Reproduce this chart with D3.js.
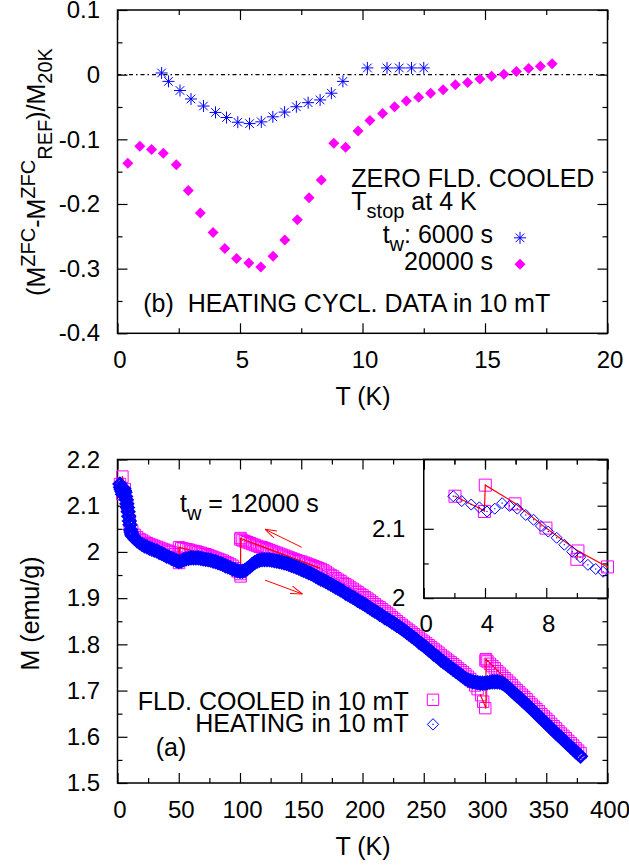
<!DOCTYPE html>
<html><head><meta charset="utf-8">
<script src="https://cdn.jsdelivr.net/npm/d3@7"></script>
<style>
body{margin:0;background:#fff}
svg text{font-family:"Liberation Sans",Arial,Helvetica,sans-serif;fill:#000}
</style>
</head><body>
<svg id="c" width="629" height="867" xmlns="http://www.w3.org/2000/svg"></svg>
<script>
// ---------------- DATA : panel (b) ----------------
const starT = [1.8,2.08,2.55,3.0,3.51,4.0,4.45,4.91,5.39,5.87,6.34,6.82,7.30,7.78,8.27,8.73,9.2,10.2,11.0,11.5,12.0,12.5];
const starV = [0.0026,-0.0104,-0.0245,-0.0376,-0.0485,-0.0584,-0.0663,-0.0736,-0.0757,-0.0730,-0.0652,-0.0579,-0.0496,-0.0433,-0.0391,-0.0287,-0.0104,0.0104,0.0104,0.0104,0.0104,0.0104];
const diaT = [0.42,0.91,1.39,1.87,2.40,2.89,3.38,3.90,4.38,4.86,5.36,5.85,6.35,6.83,7.34,7.82,8.32,8.83,9.31,9.82,10.30,10.82,11.31,11.79,12.29,12.78,13.29,13.79,14.29,14.79,15.27,15.77,16.28,16.78,17.26,17.74];
const diaV = [-0.137,-0.1106,-0.1158,-0.1216,-0.1393,-0.179,-0.2139,-0.2442,-0.2687,-0.2844,-0.2912,-0.2974,-0.2807,-0.2557,-0.2244,-0.1904,-0.1628,-0.1059,-0.1122,-0.0871,-0.0710,-0.0600,-0.0496,-0.0407,-0.0350,-0.0287,-0.0235,-0.0157,-0.0120,-0.0068,-0.0026,0.0005,0.0047,0.0094,0.0130,0.0167];
const bXMajor = [0,5,10,15,20], bXMinor = [2.5,7.5,12.5,17.5];
const bYMajor = [-0.4,-0.3,-0.2,-0.1,0,0.1], bYMinor = [-0.35,-0.25,-0.15,-0.05,0.05];

// ---------------- DATA : panel (a) ----------------
// heating curve, low T part (also shown in inset)
const heatLowT = [1.93,2.48,3.10,3.63,4.13,4.64,5.12,5.60,6.11,6.66,7.17,7.65,8.13,8.68,9.18,9.69,10.22,10.72,11.23,11.71];
const heatLowM = [2.147,2.140,2.135,2.131,2.125,2.129,2.137,2.133,2.129,2.120,2.113,2.104,2.096,2.087,2.077,2.067,2.059,2.048,2.042,2.038];
// heating curve, 12 K .. 378 K
const heatT = [12,14,16,18,20,22,24,26,28,30,32,34,36,38,40,42,44,46,48,50,
 52,54,56,58,60,62,64,66,68,70,72,74,76,78,80,82,84,86,88,90,92,94,96,98,100,
 102,104,106,108,110,112,114,116,118,120,122,124,126,128,130,132,134,136,138,140,142,144,146,148,150,152,154,156,158,160,
 162,164,166,168,170,172,174,176,178,180,182,184,186,188,190,192,194,196,198,200,
 202,204,206,208,210,212,214,216,218,220,222,224,226,228,230,232,234,236,238,240,242,244,246,248,250,252,254,256,258,260,
 262,264,266,268,270,272,274,276,278,280,282,284,286,288,290,292,294,296,298,300,302,304,306,308,310,312,314,316,318,320,
 322,324,326,328,330,332,334,336,338,340,342,344,346,348,350,352,354,356,358,360,362,364,366,368,370,372,374,376,378];
const heatM = [2.035,2.029,2.024,2.020,2.016,2.013,2.011,2.008,2.006,2.004,2.002,1.999,1.997,1.994,1.991,1.989,1.986,1.984,1.981,1.979,
 1.980,1.983,1.985,1.986,1.987,1.987,1.987,1.987,1.986,1.985,1.984,1.983,1.982,1.980,1.979,1.977,1.975,1.973,1.970,1.968,1.966,1.963,1.961,1.959,1.958,
 1.958,1.960,1.964,1.968,1.973,1.977,1.980,1.982,1.983,1.983,1.983,1.983,1.982,1.981,1.980,1.979,1.978,1.976,1.975,1.973,1.971,1.969,1.967,1.965,1.962,1.960,1.958,1.955,1.953,1.950,
 1.947,1.944,1.941,1.939,1.936,1.933,1.930,1.927,1.924,1.921,1.918,1.915,1.911,1.908,1.905,1.902,1.899,1.895,1.892,1.889,
 1.886,1.882,1.879,1.875,1.872,1.869,1.865,1.862,1.858,1.855,1.852,1.848,1.845,1.841,1.838,1.834,1.830,1.826,1.822,1.818,1.814,1.810,1.805,1.801,1.797,1.793,1.788,1.784,1.779,1.775,
 1.771,1.766,1.762,1.758,1.754,1.750,1.746,1.742,1.738,1.734,1.730,1.726,1.723,1.721,1.719,1.718,1.717,1.716,1.716,1.716,1.717,1.718,1.719,1.719,1.719,1.718,1.716,1.713,1.709,1.704,
 1.699,1.694,1.689,1.685,1.680,1.675,1.670,1.665,1.660,1.655,1.650,1.644,1.639,1.634,1.629,1.624,1.618,1.613,1.608,1.603,1.598,1.593,1.588,1.583,1.578,1.573,1.568,1.563,1.558];
// field-cooled curve (cooling order, with stops at 300, 100, 50, 10, 4 K)
const fcT = [378,376,374,372,370,368,366,364,362,360,358,356,354,352,350,348,346,344,342,340,338,336,334,332,330,328,326,324,322,320,318,316,314,312,310,308,306,304,302,
 300.8,300.4,300.2,298.5,296.8,
 294,292,290,288,286,284,282,280,278,276,274,272,270,268,266,264,262,260,258,256,254,252,250,248,246,244,242,240,238,236,234,232,
 230,228,226,224,222,220,218,216,214,212,210,208,206,204,202,200,198,196,194,192,190,188,186,184,182,180,178,176,174,172,170,168,166,
 164,162,160,158,156,154,152,150,148,146,144,142,140,138,136,134,132,130,128,126,124,122,120,118,116,114,112,110,108,106,104,102,
 100.5,100.3,100.5,100.2,
 98,96,94,92,90,88,86,84,82,80,78,76,74,72,70,68,66,64,62,60,58,56,54,52,
 50.2,50.2,
 48,46,44,42,40,38,36,34,32,30,28,26,24,22,20,18,16,14,
 12.0,10.07,10.0,7.98,5.96,4.02,3.96,2.04];
const fcM = [1.565,1.570,1.575,1.581,1.586,1.591,1.597,1.602,1.607,1.612,1.618,1.623,1.628,1.634,1.639,1.644,1.649,1.655,1.660,1.665,1.670,1.675,1.681,1.686,1.691,1.696,1.701,1.706,1.712,1.717,1.722,1.727,1.732,1.737,1.742,1.748,1.753,1.758,1.763,
 1.768,1.765,1.662,1.676,1.690,
 1.703,1.711,1.719,1.725,1.730,1.735,1.740,1.744,1.748,1.753,1.757,1.761,1.765,1.769,1.773,1.777,1.782,1.786,1.790,1.794,1.798,1.802,1.806,1.810,1.814,1.818,1.822,1.826,1.830,1.834,1.838,1.842,
 1.846,1.850,1.855,1.859,1.864,1.868,1.872,1.876,1.880,1.883,1.887,1.891,1.895,1.899,1.902,1.906,1.909,1.913,1.916,1.920,1.923,1.927,1.930,1.933,1.937,1.940,1.943,1.947,1.950,1.953,1.957,1.960,1.963,
 1.965,1.967,1.969,1.971,1.973,1.975,1.977,1.979,1.980,1.982,1.984,1.986,1.988,1.990,1.992,1.994,1.996,1.998,2.000,2.002,2.004,2.006,2.008,2.010,2.011,2.013,2.015,2.017,2.019,2.021,2.023,2.025,
 2.030,2.027,1.947,1.952,
 1.958,1.965,1.970,1.973,1.976,1.978,1.981,1.983,1.985,1.987,1.989,1.991,1.993,1.995,1.996,1.998,1.999,2.001,2.002,2.003,2.005,2.006,2.007,2.008,
 2.010,1.976,
 1.988,1.995,1.999,2.001,2.003,2.005,2.007,2.009,2.011,2.013,2.015,2.017,2.019,2.022,2.025,2.028,2.032,2.037,
 2.045,2.068,2.056,2.101,2.136,2.163,2.125,2.147];
// red guide lines at the stops
const red300 = [[342.2,1.660],[300.8,1.768],[300.8,1.662],[296,1.692]];
const red100 = [[165.3,1.965],[100.5,2.029],[100.5,1.952]];
const red50  = [[62,2.002],[50.2,2.010],[50.2,1.979]];
const redLow = [[12.0,2.045],[10.07,2.068],[10.0,2.056],[10.07,2.068],[7.98,2.101],[5.96,2.137],[4.02,2.163],[3.96,2.126],[2.04,2.147]];
const arrowsA = [[150.4,2.010,120.4,2.049],[120.4,1.939,150.9,1.909]];
const aXMajor = [0,50,100,150,200,250,300,350,400], aXMinor = [25,75,125,175,225,275,325,375];
const aYMajor = [1.5,1.6,1.7,1.8,1.9,2.0,2.1,2.2], aYMinor = [1.55,1.65,1.75,1.85,1.95,2.05,2.15];
const iXMajor = [0,4,8,12], iXLabels = [0,4,8], iXMinor = [2,6,10];
const iYMajor = [2.0,2.1], iYMinor = [2.05];

// ---------------- DRAWING ----------------
const svg = d3.select("#c");
const BLUE = "#0000ff", MAG = "#ff00ff", RED = "#ff0000";

const xB = d3.scaleLinear().domain([0,20]).range([117.5,607.5]);
const yB = d3.scaleLinear().domain([-0.4,0.1]).range([333.3,10]);
const xA = d3.scaleLinear().domain([0,400]).range([117.5,607.5]);
const yA = d3.scaleLinear().domain([1.5,2.2]).range([783,459.5]);
const xI = d3.scaleLinear().domain([0,12]).range([423.75,607.5]);
const yI = d3.scaleLinear().domain([2.0,2.2]).range([598.1,459.5]);

const fmt = d => String(+(+d).toFixed(2));

function cleanAxis(g, labels){
  g.select(".domain").remove();
  g.attr("font-family", null).attr("font-size", null);
  g.selectAll(".tick line").attr("stroke","#000").attr("stroke-width",1.2);
  g.selectAll(".tick text").attr("font-size", labels ? 24 : 0).attr("fill","#000");
}
function drawAxes(g, x, y, o){
  const [x0,x1] = x.range(), [y0,y1] = y.range();
  const ax = (gen, tr, vals, size, labels, lab, pad, extra) => {
    const a = gen.tickValues(vals).tickSize(-size).tickPadding(pad||0)
      .tickFormat(labels ? (d => lab.includes(d) ? fmt(d) : "") : (() => ""));
    const gg = g.append("g").attr("transform", tr).call(a);
    cleanAxis(gg, labels);
    if (extra) extra(gg);
  };
  ax(d3.axisBottom(x), `translate(0,${y0})`, o.xMaj, 10, true, o.xLab || o.xMaj, o.xPad, gg => gg.selectAll("text").attr("dx", 2));
  ax(d3.axisBottom(x), `translate(0,${y0})`, o.xMin, 5, false);
  ax(d3.axisTop(x), `translate(0,${y1})`, o.xMaj, 10, false);
  ax(d3.axisTop(x), `translate(0,${y1})`, o.xMin, 5, false);
  ax(d3.axisLeft(y), `translate(${x0},0)`, o.yMaj, 10, true, o.yLab || o.yMaj, o.yPad);
  ax(d3.axisLeft(y), `translate(${x0},0)`, o.yMin, 5, false);
  ax(d3.axisRight(y), `translate(${x1},0)`, o.yMaj, 10, false);
  ax(d3.axisRight(y), `translate(${x1},0)`, o.yMin, 5, false);
  g.append("rect").attr("x",x0).attr("y",y1).attr("width",x1-x0).attr("height",y0-y1)
    .attr("fill","none").attr("stroke","#000").attr("stroke-width",1.5);
}

const starPath = (x,y,r)=>{const d=r*0.72;return `M${x-r},${y}H${x+r}M${x},${y-r}V${y+r}M${x-d},${y-d}L${x+d},${y+d}M${x-d},${y+d}L${x+d},${y-d}`;};
const diamondPath = (x,y,r)=>`M${x},${y-r}L${x+r},${y}L${x},${y+r}L${x-r},${y}Z`;
const squarePath = (x,y,r)=>`M${x-r},${y-r}h${2*r}v${2*r}h${-2*r}Z`;

function rich(g, x, y, parts, o){
  o = Object.assign({size:25, small:20, sup:10, sub:7, anchor:"start"}, o||{});
  const t = g.append("text").attr("x",x).attr("y",y).attr("font-size",o.size)
    .attr("text-anchor",o.anchor).style("white-space","pre");
  if (o.transform) t.attr("transform", o.transform).attr("x",0).attr("y",0);
  let cur = 0;
  parts.forEach(([s, k]) => {
    const off = k==="sup" ? -o.sup : k==="sub" ? o.sub : 0;
    t.append("tspan").attr("dy", off-cur).attr("font-size", k ? o.small : o.size).text(s);
    cur = off;
  });
  return t;
}

// ===== panel (b) =====
const gb = svg.append("g");
gb.append("line").attr("x1",xB(0)).attr("x2",xB(20)).attr("y1",yB(0)).attr("y2",yB(0))
  .attr("stroke","#000").attr("stroke-width",1.2).attr("stroke-dasharray","4,3,1.5,3");
drawAxes(gb, xB, yB, {xMaj:bXMajor, xMin:bXMinor, yMaj:bYMajor, yMin:bYMinor, xPad:17.5, yPad:17.5});

gb.append("g").selectAll("path").data(starT.map((t,i)=>[t,starV[i]])).join("path")
  .attr("d", d=>starPath(xB(d[0]), yB(d[1]), 6)).attr("fill","none").attr("stroke",BLUE).attr("stroke-width",1);
gb.append("g").selectAll("path").data(diaT.map((t,i)=>[t,diaV[i]])).join("path")
  .attr("d", d=>diamondPath(xB(d[0]), yB(d[1]), 5.5)).attr("fill",MAG);

rich(gb, 351.3, 187.2, [["ZERO FLD. COOLED"]]);
rich(gb, 351.3, 209.5, [["T"],["stop","sub"],[" at 4 K"]], {sub:8});
rich(gb, 493, 243, [["t"],["w","sub"],[": 6000 s"]], {anchor:"end", sub:8});
rich(gb, 493, 270, [["20000 s"]], {anchor:"end"});
gb.append("path").attr("d", starPath(520,237.8,6)).attr("fill","none").attr("stroke",BLUE);
gb.append("path").attr("d", diamondPath(520,264.2,5.5)).attr("fill",MAG);
rich(gb, 143.2, 312, [["(b)  HEATING CYCL. DATA in 10 mT"]]);
rich(gb, 363, 405.3, [["T (K)"]], {anchor:"middle"});
rich(gb, 0, 0, [["(M"],["ZFC","sup"],["-M"],["ZFC","sup"],["REF","sub"],[")/M"],["20K","sub"]],
  {anchor:"middle", transform:"translate(45,172) rotate(-90)", sup:10, sub:7});

// ===== panel (a) =====
const ga = svg.append("g");
drawAxes(ga, xA, yA, {xMaj:aXMajor, xMin:aXMinor, yMaj:aYMajor, yMin:aYMinor, xPad:17.5, yPad:17.5});

const fcPts = fcT.map((t,i)=>[t,fcM[i]]);
const heatPts = heatLowT.map((t,i)=>[t,heatLowM[i]]).concat(heatT.map((t,i)=>[t,heatM[i]]));

function drawFC(g, x, y, pts, r){
  g.append("g").selectAll("path").data(pts).join("path")
    .attr("d", d=>squarePath(x(d[0]), y(d[1]), r)).attr("fill","none").attr("stroke",MAG).attr("stroke-width",1);
  g.append("g").selectAll("rect").data(pts).join("rect")
    .attr("x", d=>x(d[0])-0.6).attr("y", d=>y(d[1])-0.6).attr("width",1.2).attr("height",1.2).attr("fill",MAG);
}
function drawHeat(g, x, y, pts, r, sw){
  g.append("g").selectAll("path").data(pts).join("path")
    .attr("d", d=>diamondPath(x(d[0]), y(d[1]), r)).attr("fill","none").attr("stroke",BLUE).attr("stroke-width",sw);
  g.append("g").selectAll("rect").data(pts).join("rect")
    .attr("x", d=>x(d[0])-0.6).attr("y", d=>y(d[1])-0.6).attr("width",1.2).attr("height",1.2).attr("fill",BLUE);
}
function drawRed(g, x, y, segs){
  const ln = d3.line().x(d=>x(d[0])).y(d=>y(d[1]));
  segs.forEach(s => g.append("path").attr("d", ln(s)).attr("fill","none").attr("stroke",RED).attr("stroke-width",1.2));
}

drawFC(ga, xA, yA, fcPts, 5.7);
drawRed(ga, xA, yA, [red300, red100, red50, redLow]);
drawHeat(ga, xA, yA, heatPts, 6, 2.6);

// arrows
const defs = svg.append("defs");
defs.append("marker").attr("id","ah").attr("viewBox","0 0 12 8").attr("refX",12).attr("refY",4)
  .attr("markerWidth",12).attr("markerHeight",8).attr("markerUnits","userSpaceOnUse").attr("orient","auto")
  .append("path").attr("d","M0,0L12,4L0,8").attr("fill","none").attr("stroke",RED).attr("stroke-width",1);
ga.append("g").selectAll("line").data(arrowsA).join("line")
  .attr("x1",d=>xA(d[0])).attr("y1",d=>yA(d[1])).attr("x2",d=>xA(d[2])).attr("y2",d=>yA(d[3]))
  .attr("stroke",RED).attr("stroke-width",1).attr("marker-end","url(#ah)");

rich(ga, 180, 511.7, [["t"],["w","sub"],[" = 12000 s"]], {sub:8});
rich(ga, 408.7, 710, [["FLD. COOLED in 10 mT"]], {anchor:"end"});
rich(ga, 408.7, 731.8, [["HEATING in 10 mT"]], {anchor:"end"});
ga.append("path").attr("d", squarePath(433,699.8,5.7)).attr("fill","none").attr("stroke",MAG);
ga.append("rect").attr("x",432.4).attr("y",699.2).attr("width",1.2).attr("height",1.2).attr("fill",MAG);
ga.append("path").attr("d", diamondPath(433,724.4,5.7)).attr("fill","none").attr("stroke",BLUE);
ga.append("rect").attr("x",432.4).attr("y",723.8).attr("width",1.2).attr("height",1.2).attr("fill",BLUE);
rich(ga, 155.7, 756, [["(a)"]]);
rich(ga, 363, 855, [["T (K)"]], {anchor:"middle"});
rich(ga, 0, 0, [["M (emu/g)"]], {anchor:"middle", transform:"translate(39,613.5) rotate(-90)"});

// ===== inset =====
const gi = svg.append("g");
drawAxes(gi, xI, yI, {xMaj:iXMajor, xLab:iXLabels, xMin:iXMinor, yMaj:iYMajor, yMin:iYMinor, xPad:17, yPad:18.5});
drawFC(gi, xI, yI, fcPts.filter(d=>d[0]<=12.5), 6);
drawRed(gi, xI, yI, [redLow]);
drawHeat(gi, xI, yI, heatLowT.map((t,i)=>[t,heatLowM[i]]), 5.5, 1);
</script>
</body></html>
